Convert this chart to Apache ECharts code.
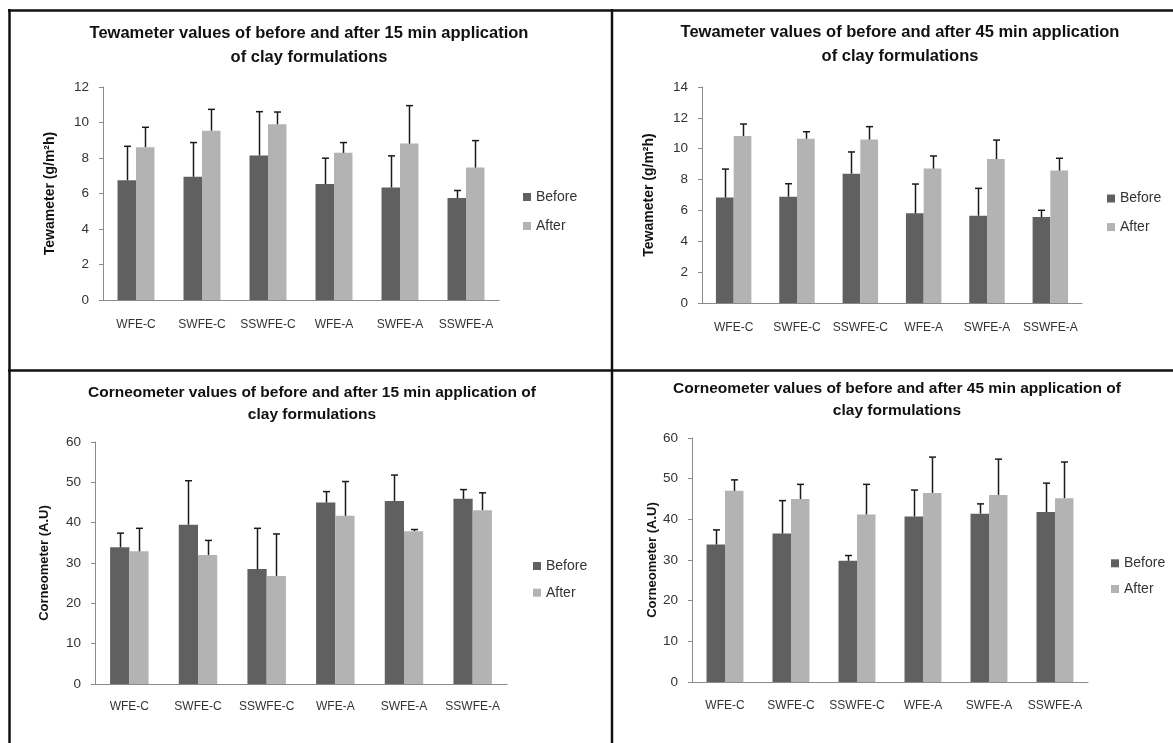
<!DOCTYPE html>
<html><head><meta charset="utf-8">
<script src="https://cdn.jsdelivr.net/npm/echarts@6/dist/echarts.min.js"></script>
<style>html,body{margin:0;padding:0;background:#fff}#c{width:1173px;height:743px}</style>
</head><body><div id="c"></div>
<script>
// ---- data ----
const categories = ['WFE-C', 'SWFE-C', 'SSWFE-C', 'WFE-A', 'SWFE-A', 'SSWFE-A'];
const seriesNames = ['Before', 'After'];

// Tewameter 15 min
const tewa15Before   = [6.75, 6.94, 8.14, 6.53, 6.34, 5.74];
const tewa15BeforeSD = [1.91, 1.93, 2.47, 1.46, 1.78, 0.43];
const tewa15After    = [8.61, 9.54, 9.90, 8.29, 8.81, 7.46];
const tewa15AfterSD  = [1.12, 1.20, 0.69, 0.58, 2.14, 1.52];
const tewa15Ticks = [0, 2, 4, 6, 8, 10, 12];

// Tewameter 45 min
const tewa45Before   = [6.83, 6.89, 8.38, 5.81, 5.66, 5.57];
const tewa45BeforeSD = [1.85, 0.84, 1.41, 1.90, 1.77, 0.44];
const tewa45After    = [10.82, 10.65, 10.59, 8.71, 9.33, 8.58];
const tewa45AfterSD  = [0.78, 0.45, 0.84, 0.82, 1.23, 0.80];
const tewa45Ticks = [0, 2, 4, 6, 8, 10, 12, 14];

// Corneometer 15 min
const corn15Before   = [33.9, 39.5, 28.5, 45.0, 45.4, 45.9];
const corn15BeforeSD = [3.5, 10.9, 10.1, 2.7, 6.4, 2.3];
const corn15After    = [32.9, 32.0, 26.8, 41.7, 37.9, 43.1];
const corn15AfterSD  = [5.7, 3.6, 10.4, 8.5, 0.4, 4.3];
const corn15Ticks = [0, 10, 20, 30, 40, 50, 60];

// Corneometer 45 min
const corn45Before   = [33.8, 36.5, 29.8, 40.7, 41.4, 41.8];
const corn45BeforeSD = [3.6, 8.1, 1.3, 6.5, 2.4, 7.1];
const corn45After    = [47.0, 45.0, 41.2, 46.5, 46.0, 45.2];
const corn45AfterSD  = [2.7, 3.6, 7.4, 8.8, 8.8, 8.9];
const corn45Ticks = [0, 10, 20, 30, 40, 50, 60];

const titles = [
  'Tewameter values of before and after 15 min application\nof clay formulations',
  'Tewameter values of before and after 45 min application\nof clay formulations',
  'Corneometer values of before and after 15 min application of\nclay formulations',
  'Corneometer values of before and after 45 min application of\nclay formulations'
];
const yNames = ['Tewameter (g/m\u00B2h)', 'Tewameter (g/m\u00B2h)', 'Corneometer (A.U)', 'Corneometer (A.U)'];

// ---- layout / style ----
const FONT = '"Liberation Sans", Arial, sans-serif';
const DARK = '#606060', LIGHT = '#b3b3b3', ERR = '#1a1a1a', AXIS = '#8a8a8a', TXT = '#333';
const GAP = 0.44;

const panels = [
  {title: titles[0], tx: 309, ty: 21, lh: 24, ts: 16.5, grid: {left: 103, top: 87, width: 396, height: 213},
   ticks: tewa15Ticks, yName: yNames[0], ns: 14, ng: 46, xm: 19, lg: {left: 523, top: 189, gap: 13},
   b: tewa15Before, bsd: tewa15BeforeSD, a: tewa15After, asd: tewa15AfterSD},
  {title: titles[1], tx: 900, ty: 20.5, lh: 24, ts: 16.5, grid: {left: 702, top: 87, width: 380, height: 216},
   ticks: tewa45Ticks, yName: yNames[1], ns: 14, ng: 46, xm: 19, lg: {left: 1107, top: 190.5, gap: 12.6},
   b: tewa45Before, bsd: tewa45BeforeSD, a: tewa45After, asd: tewa45AfterSD},
  {title: titles[2], tx: 312, ty: 381.5, lh: 22, ts: 15.5, grid: {left: 95, top: 442, width: 412, height: 242},
   ticks: corn15Ticks, yName: yNames[2], ns: 13, ng: 44, xm: 17, lg: {left: 533, top: 558, gap: 10.7},
   b: corn15Before, bsd: corn15BeforeSD, a: corn15After, asd: corn15AfterSD},
  {title: titles[3], tx: 897, ty: 378, lh: 22, ts: 15.5, grid: {left: 692, top: 438, width: 396, height: 244},
   ticks: corn45Ticks, yName: yNames[3], ns: 13, ng: 33, xm: 18, lg: {left: 1111, top: 555.3, gap: 9.7},
   b: corn45Before, bsd: corn45BeforeSD, a: corn45After, asd: corn45AfterSD}
];

function makeErr(sign) {
  return function (params, api) {
    const i = api.value(0), v = api.value(1), e = api.value(2);
    const band = api.size([1, 0])[0];
    const bw = band * (1 - GAP) / 2;
    const b = api.coord([i, v]);
    const t = api.coord([i, v + e]);
    const x = Math.round(b[0] + sign * bw / 2) + 0.5;
    return {
      type: 'group',
      children: [
        {type: 'line', shape: {x1: x, y1: b[1], x2: x, y2: t[1]}, style: {stroke: ERR, lineWidth: 1.5}},
        {type: 'line', shape: {x1: x - 3.5, y1: t[1], x2: x + 3.5, y2: t[1]}, style: {stroke: ERR, lineWidth: 1.5}}
      ]
    };
  };
}

const option = {
  animation: false,
  backgroundColor: '#fff',
  textStyle: {fontFamily: FONT},
  title: [], grid: [], xAxis: [], yAxis: [], legend: [], series: [],
  graphic: [
    {type: 'line', shape: {x1: 8, y1: 10.5, x2: 1173, y2: 10.5}, style: {stroke: '#111', lineWidth: 2.5}},
    {type: 'line', shape: {x1: 9.5, y1: 9, x2: 9.5, y2: 743}, style: {stroke: '#111', lineWidth: 2.5}},
    {type: 'line', shape: {x1: 612, y1: 9, x2: 612, y2: 743}, style: {stroke: '#111', lineWidth: 2.5}},
    {type: 'line', shape: {x1: 8, y1: 370.5, x2: 1173, y2: 370.5}, style: {stroke: '#111', lineWidth: 2.5}}
  ]
};

panels.forEach((p, k) => {
  const maxV = p.ticks[p.ticks.length - 1];
  const step = p.ticks[1] - p.ticks[0];
  option.title.push({
    text: p.title, left: p.tx, top: p.ty, textAlign: 'center', padding: 0,
    textStyle: {fontFamily: FONT, fontWeight: 'bold', fontSize: p.ts, lineHeight: p.lh, color: '#111'}
  });
  option.grid.push(Object.assign({containLabel: false}, p.grid));
  option.xAxis.push({
    type: 'category', gridIndex: k, data: categories,
    axisLine: {lineStyle: {color: AXIS, width: 1}},
    axisTick: {show: false},
    axisLabel: {interval: 0, fontSize: 12, color: TXT, margin: p.xm, fontFamily: FONT}
  });
  option.yAxis.push({
    type: 'value', gridIndex: k, min: p.ticks[0], max: maxV, interval: step,
    name: p.yName, nameLocation: 'middle', nameRotate: 90, nameGap: p.ng,
    nameTextStyle: {fontFamily: FONT, fontWeight: 'bold', fontSize: p.ns, color: '#111'},
    axisLine: {show: true, lineStyle: {color: AXIS, width: 1}},
    axisTick: {show: true, length: 4, lineStyle: {color: AXIS}},
    splitLine: {show: false},
    axisLabel: {fontSize: 13.5, color: TXT, margin: 14, fontFamily: FONT}
  });
  option.legend.push({
    data: seriesNames, orient: 'vertical', left: p.lg.left, top: p.lg.top, padding: 0,
    itemGap: p.lg.gap, itemWidth: 8, itemHeight: 8, icon: 'rect',
    textStyle: {fontFamily: FONT, fontSize: 14, color: TXT, lineHeight: 16}
  });
  option.series.push(
    {name: 'Before', type: 'bar', xAxisIndex: k, yAxisIndex: k, data: p.b,
     barGap: '0%', barCategoryGap: (GAP * 100) + '%', itemStyle: {color: DARK}, silent: true},
    {name: 'After', type: 'bar', xAxisIndex: k, yAxisIndex: k, data: p.a,
     barGap: '0%', barCategoryGap: (GAP * 100) + '%', itemStyle: {color: LIGHT}, silent: true},
    {name: 'errBefore' + k, type: 'custom', xAxisIndex: k, yAxisIndex: k, z: 5, silent: true,
     renderItem: makeErr(-1), encode: {x: 0, y: 1},
     data: categories.map((c, i) => [i, p.b[i], p.bsd[i]])},
    {name: 'errAfter' + k, type: 'custom', xAxisIndex: k, yAxisIndex: k, z: 5, silent: true,
     renderItem: makeErr(1), encode: {x: 0, y: 1},
     data: categories.map((c, i) => [i, p.a[i], p.asd[i]])}
  );
});

const chart = echarts.init(document.getElementById('c'), null, {renderer: 'canvas'});
chart.setOption(option);
</script>
</body></html>
